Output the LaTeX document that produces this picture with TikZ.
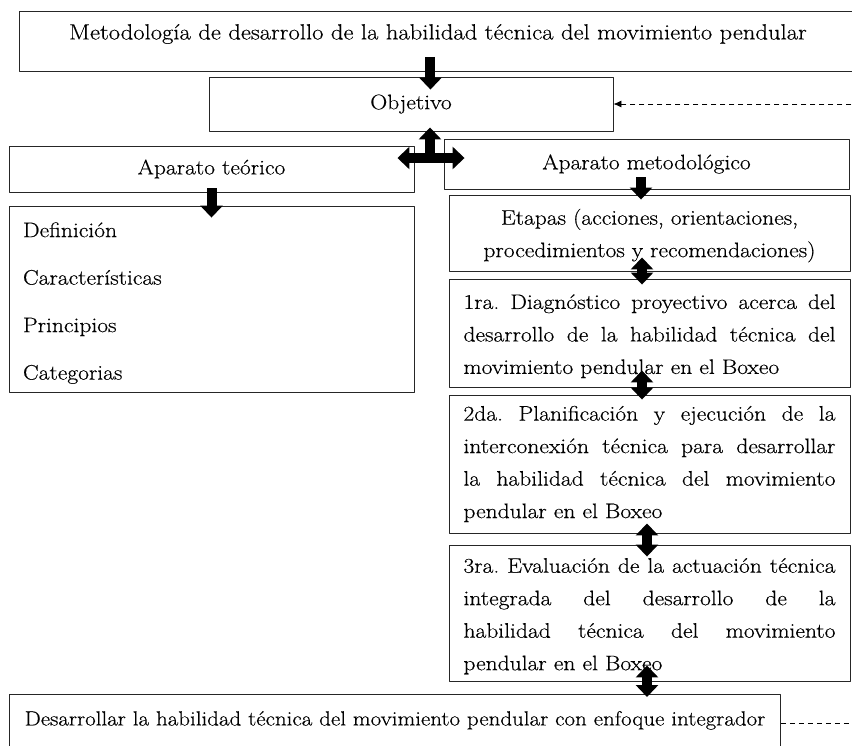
\documentclass[tikz,border=0pt]{standalone}
\usepackage{fontspec}
\setmainfont{Latin Modern Roman}[FakeStretch=1.12,FakeBold=0.4]
\usetikzlibrary{arrows.meta}
\newcommand{\alza}[1]{\rule{0pt}{#1}}
\begin{document}
\begin{tikzpicture}[x=1pt,y=-1pt,line join=round,
	caja/.style={draw=black!85,line width=.9pt,inner sep=0pt,font=\fontsize{21pt}{32.5pt}\selectfont\frenchspacing},
	etapa/.style={caja,minimum width=401pt,text width=372pt,align=justify},
	gruesa/.style={line width=10pt,-{Triangle[width=22pt,length=12pt]}},
	doble/.style={line width=10pt,{Triangle[width=22pt,length=12pt]}-{Triangle[width=22pt,length=12pt]}}]
	\useasboundingbox (0,0) rectangle (852,745);
	\clip (0,0) rectangle (852,745);
	\node[caja,anchor=north west,minimum width=837pt,text height=28pt,text depth=32pt,font=\fontsize{22pt}{32.5pt}\selectfont] (tit) at (19,11) {Metodología de desarrollo de la habilidad técnica del movimiento pendular};
	\node[caja,minimum width=404pt,minimum height=54pt] (obj) at (411,104) {Objetivo};
	\node[caja,minimum width=405pt,minimum height=46pt] (teo) at (211.5,169) {Aparato teórico};
	\node[caja,minimum width=405pt,minimum height=50pt] (met) at (646.5,164) {Aparato metodológico};
	\node[caja,minimum width=405pt,minimum height=186pt,text width=377pt,align=left,font=\fontsize{21pt}{47.5pt}\selectfont] (def) at (211.5,299) {\alza{23pt}Definición\\Características\\Principios\\Categorias};
	\node[etapa,minimum height=76pt,align=center] (eta) at (649.5,233) {\alza{21pt}Etapas (acciones, orientaciones,\\procedimientos y recomendaciones)};
	\node[etapa,minimum height=108pt] (e1) at (649.5,333) {\alza{21pt}1ra. Diagnóstico proyectivo acerca del\linebreak desarrollo de la habilidad técnica del\linebreak movimiento pendular en el Boxeo};
	\node[etapa,minimum height=138pt] (e2) at (649.5,464) {2da. Planificación y ejecución de la\linebreak interconexión técnica para desarrollar\linebreak la habilidad técnica del movimiento\linebreak pendular en el Boxeo};
	\node[etapa,minimum height=136pt] (e3) at (649.5,613) {\alza{21pt}3ra. Evaluación de la actuación técnica\linebreak integrada del desarrollo de la\linebreak habilidad técnica del movimiento\linebreak pendular en el Boxeo};
	\node[caja,anchor=north west,minimum width=771pt,text height=31pt,text depth=40pt,font=\fontsize{20.5pt}{32.5pt}\selectfont] (fin) at (9,694) {Desarrollar la habilidad técnica del movimiento pendular con enfoque integrador};
	% flechas gruesas
	\coordinate (cruce) at (430,158);
	\draw[gruesa] ([xshift=-7.5pt,yshift=15pt]tit.south) -- ([xshift=-7.5pt,yshift=-13pt]tit.south |- obj.north);
	\draw[doble] ([xshift=-17pt]teo.east |- cruce) -- ([xshift=21pt]met.west |- cruce);
	\draw[gruesa] (cruce) -- ([yshift=4pt]cruce |- obj.south);
	\draw[gruesa] ([yshift=4pt]teo.south) -- ([yshift=-12pt]def.north);
	\draw[gruesa] ([xshift=-5.5pt,yshift=12pt]met.south) -- ([xshift=-5.5pt,yshift=-5pt]met.south |- eta.north);
	\draw[doble] ([xshift=-7.5pt,yshift=14pt]eta.south) -- ([xshift=-7.5pt,yshift=-6pt]e1.north);
	\draw[doble] ([xshift=-7.5pt,yshift=17pt]e1.south) -- ([xshift=-7.5pt,yshift=-5pt]e2.north);
	\draw[doble] ([xshift=-2.5pt,yshift=10pt]e2.south) -- ([xshift=-2.5pt,yshift=-12pt]e3.north);
	\draw[doble] ([xshift=-2.5pt,yshift=16pt]e3.south) -- ([xshift=-2.5pt,yshift=-3pt]e3.south |- fin.north);
	% retroalimentacion
	\coordinate (lazo) at (880,0);
	\draw[line width=.8pt,dash pattern=on 5pt off 4pt,-{Latex[length=8pt,width=7pt]}] (fin.mid east) -- (fin.mid east -| lazo) -- (lazo |- obj.east) -- (obj.east);
\end{tikzpicture}
\end{document}
